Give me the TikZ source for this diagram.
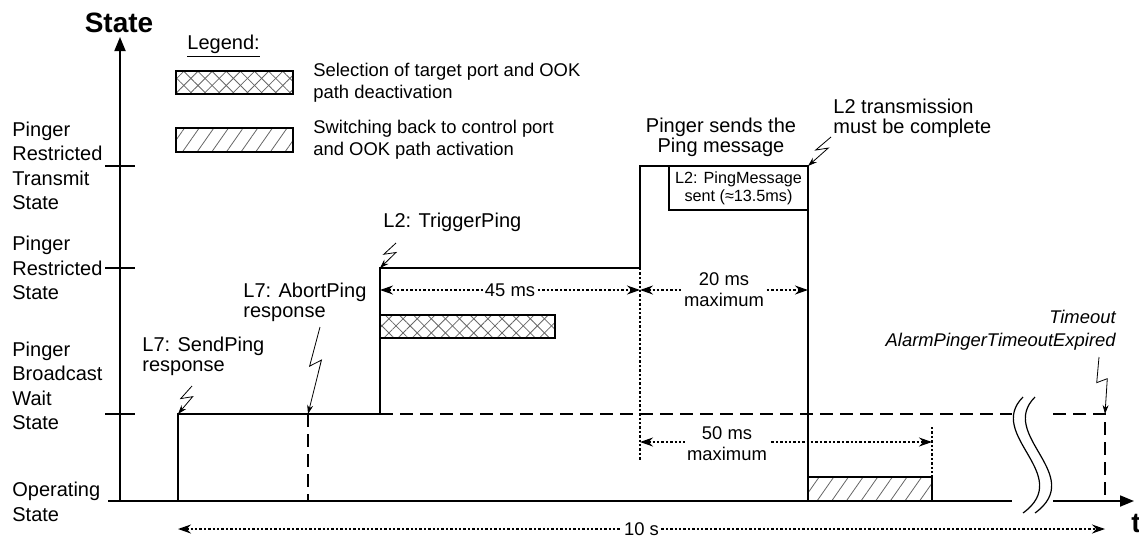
\documentclass[tikz,border=0pt]{standalone}
\usepackage{fontspec}
\setmainfont{Liberation Sans}
\usetikzlibrary{arrows.meta,calc,patterns.meta}
\tikzset{
  >={Stealth[length=6.5pt,width=4.5pt]},
  lab/.style={font=\fontsize{10}{10}\selectfont,inner sep=0pt,align=left,anchor=west},
  llab/.style={lab,font=\fontsize{9.2}{11}\selectfont},
  slab/.style={font=\fontsize{9.2}{10.5}\selectfont,inner sep=1pt,align=center,fill=white},
  lvl/.style={font=\fontsize{10}{12.25}\selectfont,inner sep=0pt,align=left,anchor=west},
  ttl/.style={font=\fontsize{14}{14}\selectfont\bfseries,inner sep=0pt},
  ax/.style={line width=0.9pt,-{Triangle[length=7pt,width=5.5pt]}},
  sig/.style={line width=1pt},
  sigd/.style={sig,dash pattern=on 6.5pt off 3.5pt},
  dim/.style={<->,line width=0.7pt,dash pattern=on 1.2pt off 1pt},
  guide/.style={line width=0.7pt,dash pattern=on 1.2pt off 1pt},
  bolt/.style={-{Stealth[length=4.5pt,width=3pt]},line width=0.4pt},
  crossbox/.style={draw,line width=0.8pt,
    preaction={pattern={Lines[angle=45,distance=5pt,line width=0.4pt]},pattern color=black!60},
    preaction={pattern={Lines[angle=-45,distance=5pt,line width=0.4pt]},pattern color=black!60}},
  slashbox/.style={draw,line width=0.8pt,
    preaction={pattern={Lines[angle=55,distance=6pt,line width=0.4pt]},pattern color=black!60}},
}

\begin{document}
\begin{tikzpicture}[x=0.5pt,y=-0.5pt]
\useasboundingbox (0,0) rectangle (1139,538);
\draw[ax] (120,501) -- (120,37);
\node[ttl] (ylab) at (119,23) {State};
\draw[sig] (108,501) -- (1012,501);
\draw[ax] (1053,501) -- (1134,501);
\node[ttl] (xlab) at (1136,523) {t};
\foreach \y/\c/\n/\txt in {166/166/pt/{Pinger\\Restricted\\Transmit\\State},
    268/268/pr/{Pinger\\Restricted\\State},414/386/bw/{Pinger\\Broadcast\\Wait\\State}}{
  \draw[sig] (105,\y) -- (135,\y);
  \node[lvl] (\n) at (12,\c) {\txt};
}
\node[lvl] (op) at (12,502) {Operating\\State};

\node[lab] (leg) at (187,46) {\underline{Legend:}};
\draw[crossbox] (176,71) rectangle (293,94);
\node[llab] (legA) at (313,82.5) {Selection of target port and OOK\\path deactivation};
\draw[slashbox] (176,128) rectangle (293,152);
\node[llab] (legB) at (313,139.5) {Switching back to control port\\and OOK path activation};

\coordinate (a0) at (178,501);
\coordinate (a1) at (178,414);
\coordinate (b0) at (308,414);
\coordinate (b1) at (308,501);
\coordinate (c0) at (380,414);
\coordinate (c1) at (380,268);
\coordinate (d0) at (640,268);
\coordinate (d1) at (640,166);
\coordinate (e0) at (808,166);
\coordinate (e1) at (808,501);
\coordinate (g0) at (1105,414);
\coordinate (g1) at (1105,501);
\draw[crossbox] (380,315) rectangle (555,338);
\draw[slashbox] (808,477) rectangle (932,501);
\node[draw,line width=0.7pt,font=\fontsize{8.1}{9}\selectfont,align=center,
  minimum width=69.5pt,minimum height=22pt,inner sep=0pt] (pmsg) at (738.5,188) {L2: PingMessage\\sent (≈13.5ms)};
\draw[sig] (a0) -- (a1) -- (c0) -- (c1) -- (d0) -- (d1) -- (e0) -- (e1);
\draw[sigd] (b0) -- (b1);
\draw[sigd] (c0) -- (1012,414);
\draw[sigd] (1053,414) -- (g0) -- (g1);
\draw[line width=0.6pt] (1023,397) .. controls (985,435) and (1075,475) .. (1023,513);
\draw[line width=0.6pt] (1035,397) .. controls (997,435) and (1087,475) .. (1035,513);

\draw[guide] (d0) -- (640,460);
\draw[guide] (932,427) -- (932,477);
\draw[dim] (380,290) -- node[slab] (t45) {45 ms} (640,290);
\draw[dim] (640,290) -- node[slab] (t20) {20 ms\\maximum} (808,290);
\draw[dim] (640,442) -- (932,442);
\node[slab] (t50) at (727,444) {50 ms\\maximum};
\draw[dim] (178,529) -- node[slab] (t10) {10 s} (1105,529);

\node[lab] (send) at (142,356) {L7: SendPing\\response};
\node[lab] (abort) at (243,302) {L7: AbortPing\\response};
\node[lab] (trig) at (383,222) {L2: TriggerPing};
\node[lab,align=center,anchor=center] (ping) at (721,137) {Pinger sends the\\Ping message};
\node[lab] (done) at (833,118) {L2 transmission\\must be complete};
\node[lab,font=\fontsize{9.2}{11.5}\selectfont\itshape,align=right,anchor=east] (tout) at (1116,330) {Timeout\\AlarmPingerTimeoutExpired};
\coordinate (zSend) at (192,386);
\coordinate (zAbort) at (320,327);
\coordinate (zTrig) at (396,243);
\coordinate (zDone) at (831,137);
\coordinate (zTout) at (1099,357);
\foreach \s/\e in {zSend/a1,zAbort/b0,zTrig/c1,zDone/e0,zTout/g0}
  \draw[bolt] (\s) -- ($(\s)!0.45!(\e)+(-5,0)$) -- ($(\s)!0.38!(\e)+(6,0)$) -- (\e);
\end{tikzpicture}
\end{document}
